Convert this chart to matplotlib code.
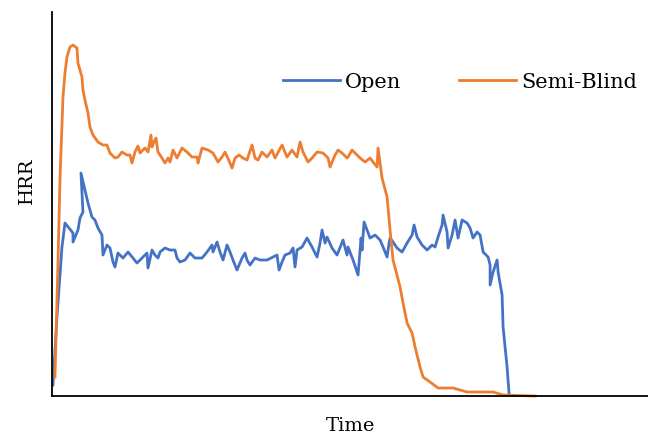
import matplotlib.pyplot as plt

# courbes (temps et HRR en unites arbitraires)
open_t = [1, 5, 10, 13, 21, 21, 26, 28, 31, 29, 33, 36, 40, 43, 46, 50, 51, 55, 58, 61,
          63, 66, 71, 76, 81, 85, 90, 95, 96, 100, 103, 106, 108, 113, 118, 123, 125, 128,
          133, 138, 143, 150, 155, 160, 161, 165, 168, 171, 175, 178, 181, 185, 190, 193,
          195, 198, 203, 208, 215, 221, 225, 227, 230, 233, 238, 241, 243, 245, 250, 255,
          260, 265, 268, 270, 273, 275, 280, 285, 291, 295, 296, 301, 306, 309, 310, 312,
          315, 318, 323, 328, 331, 335, 337, 338, 341, 345, 350, 355, 360, 362, 365, 370,
          375, 380, 383, 386, 390, 391, 395, 396, 400, 403, 405, 406, 410, 415, 418, 421,
          425, 428, 431, 436, 438, 438, 441, 445, 446, 450, 451, 455, 457]
open_hrr = [11, 79, 149, 173, 163, 154, 166, 178, 184, 223, 206, 193, 179, 176, 168, 161,
            141, 151, 148, 134, 129, 143, 138, 144, 138, 133, 138, 143, 128, 146, 141, 138,
            144, 148, 146, 146, 138, 134, 136, 143, 138, 138, 144, 151, 144, 154, 144, 136,
            151, 144, 136, 126, 138, 143, 136, 131, 138, 136, 136, 139, 141, 126, 134, 141,
            143, 148, 129, 146, 149, 158, 149, 139, 153, 166, 153, 159, 148, 141, 156, 141,
            149, 136, 121, 158, 146, 174, 166, 158, 161, 156, 149, 139, 153, 158, 154, 148,
            144, 153, 161, 171, 159, 151, 146, 151, 149, 159, 171, 181, 164, 148, 161, 176,
            164, 158, 176, 173, 168, 158, 164, 161, 144, 139, 131, 111, 124, 136, 124, 101,
            69, 29, 2]
semi_t = [3, 6, 8, 11, 13, 15, 18, 21, 25, 26, 28, 30, 31, 33, 36, 38, 41, 46, 51, 55,
          58, 63, 66, 70, 75, 78, 80, 83, 86, 88, 93, 96, 99, 100, 102, 104, 106, 110,
          113, 116, 118, 121, 125, 130, 135, 140, 145, 146, 150, 156, 161, 166, 170, 173,
          178, 180, 183, 187, 191, 195, 200, 203, 206, 210, 215, 220, 223, 230, 235, 240,
          245, 248, 251, 256, 260, 265, 271, 276, 278, 283, 286, 290, 295, 296, 300, 305,
          308, 313, 318, 321, 325, 326, 330, 335, 338, 341, 348, 351, 355, 360, 363, 368,
          371, 378, 386, 401, 415, 441, 451, 483]
semi_hrr = [19, 133, 216, 299, 323, 339, 349, 351, 348, 333, 326, 319, 306, 296, 283, 269,
            261, 254, 251, 251, 243, 238, 239, 244, 241, 241, 233, 244, 250, 243, 248, 244,
            261, 249, 254, 258, 244, 238, 233, 238, 234, 246, 238, 248, 244, 239, 239, 233,
            248, 246, 243, 234, 239, 244, 233, 228, 238, 241, 238, 236, 251, 238, 236, 244,
            239, 246, 238, 251, 239, 246, 239, 254, 244, 234, 238, 244, 243, 238, 229, 241,
            246, 243, 238, 239, 246, 241, 238, 234, 238, 234, 229, 248, 218, 199, 166, 136,
            109, 93, 73, 63, 49, 29, 19, 14, 8, 8, 4, 4, 1, 0]

fig = plt.figure(figsize=(6.48, 4.36), dpi=100)
ax = fig.add_axes([0.0802, 0.0917, 0.92, 0.8807])

ax.plot(open_t, open_hrr, color='#4472C4', lw=2, label='Open', clip_on=False)
ax.plot(semi_t, semi_hrr, color='#ED7D31', lw=2, label='Semi-Blind', clip_on=False)

ax.set_xlim(0, 596)
ax.set_ylim(0, 384)
ax.set_xticks([]); ax.set_yticks([])
for s in ['top', 'right']:
    ax.spines[s].set_visible(False)
for s in ['left', 'bottom']:
    ax.spines[s].set_linewidth(1.3)
    ax.spines[s].set_zorder(3)

police = 'DejaVu Serif'
ax.set_xlabel('Time', family=police, fontsize=14)
ax.set_ylabel('HRR', family=police, fontsize=14)
ax.xaxis.set_label_coords(0.5, -0.055)
ax.yaxis.set_label_coords(-0.027, 0.56)

ax.legend(loc='center left', bbox_to_anchor=(0.3876, 0.8177), ncol=2, frameon=False,
          prop={'family': police, 'size': 15}, handlelength=2.74, handletextpad=0.25,
          columnspacing=2.74, borderaxespad=0, borderpad=0)

plt.savefig('out.png')
